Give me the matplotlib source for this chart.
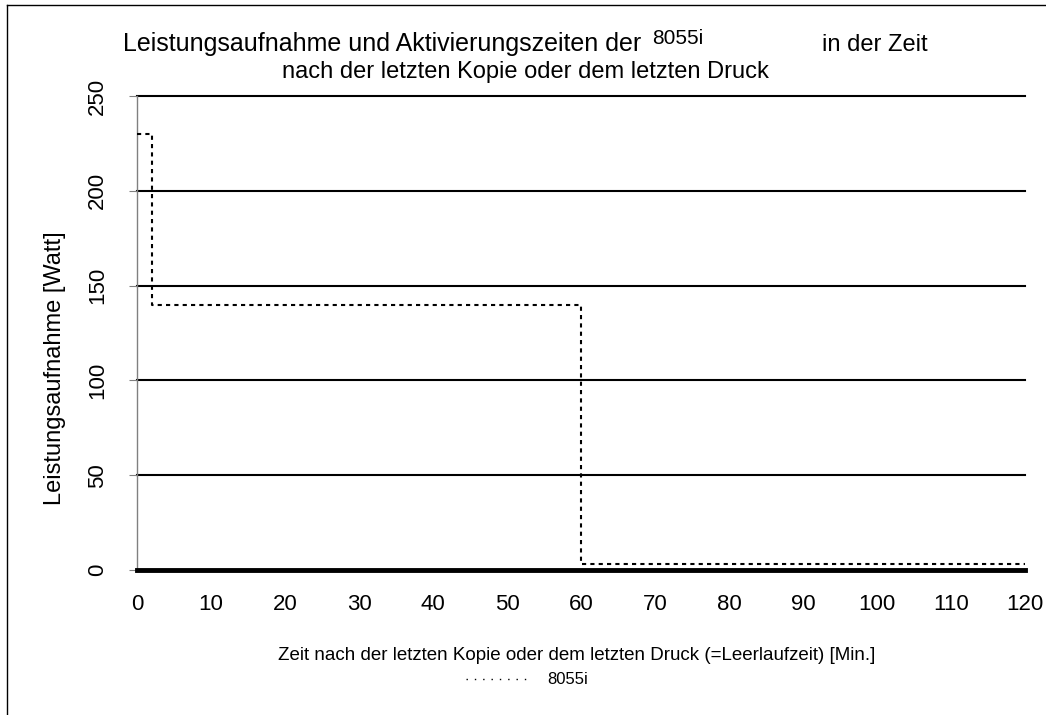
import matplotlib
matplotlib.use("Agg")
import matplotlib.pyplot as plt
from matplotlib.lines import Line2D

plt.rcParams['font.family'] = ['Liberation Sans', 'DejaVu Sans']

# step data: idle time [min] vs. power [W]
zeit = [0, 2, 60, 120]
leistung = [230, 140, 3, 3]
serie = "8055i"

y_ticks = [0, 50, 100, 150, 200, 250]
x_ticks = list(range(0, 121, 10))

W, H = 1046, 715
fig = plt.figure(figsize=(W / 100, H / 100), dpi=100)
ax = fig.add_axes([137 / W, 1 - 570 / H, 888 / W, 474 / H])

# outer frame (left + top edge visible)
fig.add_artist(Line2D([7 / W, 7 / W], [0, 1 - 5 / H], transform=fig.transFigure, color='black', lw=1))
fig.add_artist(Line2D([7 / W, 1], [1 - 5 / H, 1 - 5 / H], transform=fig.transFigure, color='black', lw=1))

ax.plot(zeit, leistung, drawstyle='steps-post', color='black', lw=1.5,
        dashes=(2, 2), zorder=3)

ax.set_xlim(0, 120)
ax.set_ylim(0, 250)
ax.set_xticks(x_ticks)
ax.set_yticks(y_ticks)
ax.yaxis.grid(True, color='black', lw=1.5)
for gl in ax.get_ygridlines():
    gl.set_clip_on(False)
ax.set_axisbelow(True)

for s in ['top', 'right']:
    ax.spines[s].set_visible(False)
ax.spines['left'].set_color('#808080')
ax.spines['left'].set_linewidth(1)
ax.spines['bottom'].set_color('black')
ax.spines['bottom'].set_linewidth(3.5)

ax.tick_params(axis='x', length=0, pad=17, labelsize=16)
ax.tick_params(axis='y', length=6, color='#808080', pad=15, labelsize=16)
for lbl in ax.get_yticklabels():
    lbl.set_rotation(90)
    lbl.set_va('center')

ax.set_ylabel('Leistungsaufnahme [Watt]', fontsize=17)
ax.yaxis.set_label_coords(-0.08, 0.426)

fig.text(123 / W, 1 - 51 / H, 'Leistungsaufnahme und Aktivierungszeiten der',
         fontsize=18, ha='left', va='baseline')
fig.text(652 / W, 1 - 44 / H, serie, fontsize=15, ha='left', va='baseline')
fig.text(822 / W, 1 - 51 / H, 'in der Zeit', fontsize=17, ha='left', va='baseline')
fig.text(525 / W, 1 - 78 / H, 'nach der letzten Kopie oder dem letzten Druck',
         fontsize=17, ha='center', va='baseline')

fig.text(577 / W, 1 - 655 / H,
         'Zeit nach der letzten Kopie oder dem letzten Druck (=Leerlaufzeit) [Min.]',
         fontsize=13.5, ha='center', va='center')

proxy = Line2D([], [], color='black', lw=1, linestyle=(0, (1, 5)))
fig.legend([proxy], [serie], loc='center', bbox_to_anchor=(527 / W, 1 - 680 / H),
           frameon=False, fontsize=12, handlelength=3.65, handletextpad=1.2)

fig.savefig('out.png', dpi=100)
